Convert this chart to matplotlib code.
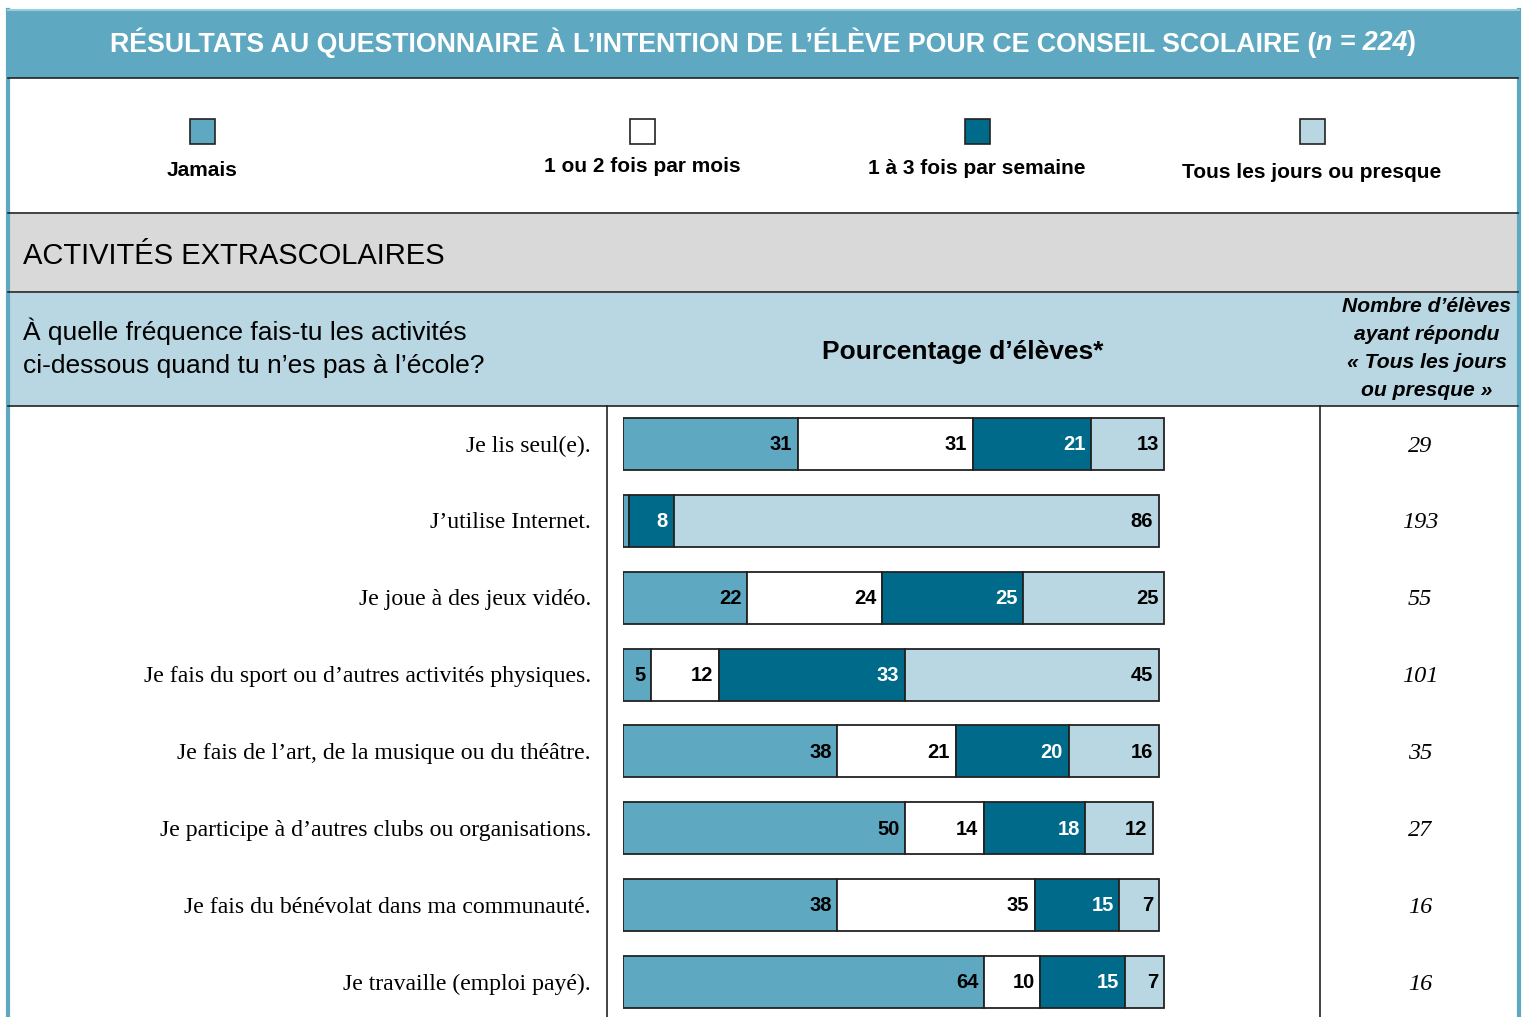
import numpy as np
import matplotlib
matplotlib.use("Agg")
import matplotlib.pyplot as plt
from matplotlib.patches import Rectangle

# data
questions = [
    "Je lis seul(e).",
    "J\u2019utilise Internet.",
    "Je joue à des jeux vidéo.",
    "Je fais du sport ou d\u2019autres activités physiques.",
    "Je fais de l\u2019art, de la musique ou du théâtre.",
    "Je participe à d\u2019autres clubs ou organisations.",
    "Je fais du bénévolat dans ma communauté.",
    "Je travaille (emploi payé).",
]
categories = ["Jamais", "1 ou 2 fois par mois", "1 à 3 fois par semaine",
              "Tous les jours ou presque"]
jamais = [31, 1, 22, 5, 38, 50, 38, 64]
mois = [31, 0, 24, 12, 21, 14, 35, 10]
semaine = [21, 8, 25, 33, 20, 18, 15, 15]
tous = [13, 86, 25, 45, 16, 12, 7, 7]
nb_tous = [29, 193, 55, 101, 35, 27, 16, 16]

colors = ["#5EA9C1", "#FFFFFF", "#006A8A", "#B8D7E2"]
txt_colors = ["black", "black", "white", "black"]

SANS = "Liberation Sans"
SERIF = "Liberation Serif"

W, H = 1528, 1017
fig = plt.figure(figsize=(W / 100, H / 100), dpi=100)
renderer = fig.canvas.get_renderer()

# background canvas in pixel coordinates
bg = fig.add_axes([0, 0, 1, 1])
bg.set_xlim(0, W)
bg.set_ylim(H, 0)
bg.axis("off")

blue = "#5EA9C1"
bg.add_patch(Rectangle((8, 10), 1512, 68, facecolor=blue, edgecolor="none"))
bg.add_patch(Rectangle((8, 214), 1510, 78, facecolor="#D9D9D9", edgecolor="none"))
bg.add_patch(Rectangle((8, 293), 1510, 113, facecolor="#B8D7E2", edgecolor="none"))
bg.plot([8, 8], [10, H], color=blue, lw=3)
bg.plot([1519, 1519], [10, H], color=blue, lw=3)
bg.plot([8, 1519], [10, 10], color="#9CCBDA", lw=1.5)
for y in [78, 213, 292, 406]:
    bg.plot([8, 1518], [y, y], color="#222222", lw=1.2)
bg.plot([607, 607], [406, H], color="#222222", lw=1.2)
bg.plot([1320, 1320], [406, H], color="#222222", lw=1.2)

# title, drawn piece by piece so that "n = 224" can be italic
parts = [("RÉSULTATS AU QUESTIONNAIRE À L\u2019INTENTION DE L\u2019ÉLÈVE POUR CE CONSEIL SCOLAIRE (", "normal"),
         ("n = 224", "italic"),
         (")", "normal")]
pieces = []
for s, st in parts:
    t = bg.text(0, 43, s, color="white", fontsize=19.3, fontweight="bold",
                style=st, family=SANS, ha="left", va="center")
    pieces.append(t)
widths = [t.get_window_extent(renderer).width for t in pieces]
x = 763 - sum(widths) / 2
for t, w in zip(pieces, widths):
    t.set_x(x)
    x += w

# legend
leg_x = [202, 642, 977, 1312]
leg_y = [171, 166, 169, 172]
for i, c in enumerate(categories):
    bg.add_patch(Rectangle((leg_x[i] - 12, 119), 25, 25, facecolor=colors[i],
                           edgecolor="#222222", lw=1.2))
    bg.text(leg_x[i], leg_y[i], c, fontsize=15, fontweight="bold", family=SANS,
            ha="center", va="center")

bg.text(23, 256, "ACTIVITÉS EXTRASCOLAIRES", fontsize=21, family=SANS,
        ha="left", va="center")
bg.text(23, 331, "À quelle fréquence fais-tu les activités", fontsize=19,
        family=SANS, ha="left", va="center")
bg.text(23, 366, "ci-dessous quand tu n\u2019es pas à l\u2019école?", fontsize=19,
        family=SANS, ha="left", va="center")
bg.text(963, 352, "Pourcentage d\u2019élèves*", fontsize=19, fontweight="bold",
        family=SANS, ha="center", va="center")
right_lines = ["Nombre d\u2019élèves", "ayant répondu", "« Tous les jours",
               "ou presque »"]
for s, y in zip(right_lines, [306, 335, 363, 391]):
    bg.text(1427, y, s, fontsize=15.2, fontweight="bold", style="italic",
            family=SANS, ha="center", va="center")

# bars
row0, step = 444, 76.86
top_px, bot_px = 406, H
ax = fig.add_axes([623 / W, 1 - bot_px / H, (1187 - 623) / W, (bot_px - top_px) / H])
ax.set_xlim(0, 100)
ax.set_ylim(7 + (bot_px - (row0 + 7 * step)) / step, -(row0 - top_px) / step)
ax.axis("off")
ax.patch.set_alpha(0)

series = [jamais, mois, semaine, tous]
y = np.arange(len(questions))
left = np.zeros(len(questions))
for i, vals in enumerate(series):
    vals = np.array(vals, dtype=float)
    ax.barh(y, vals, left=left, height=0.677, color=colors[i],
            edgecolor="#222222", linewidth=1.3)
    for j, v in enumerate(vals):
        if v >= 3:
            ax.text(left[j] + v - 1.0, y[j] + 0.01, f"{int(v)}", color=txt_colors[i],
                    fontsize=14.5, fontweight="bold", family=SANS,
                    ha="right", va="center")
    left += vals

for j, q in enumerate(questions):
    yp = row0 + j * step + 2
    bg.text(591, yp, q, fontsize=17.1, family=SERIF, ha="right", va="center")
    bg.text(1420, yp, str(nb_tous[j]), fontsize=17.5, family=SERIF,
            style="italic", ha="center", va="center")

fig.savefig("out.png", dpi=100)
